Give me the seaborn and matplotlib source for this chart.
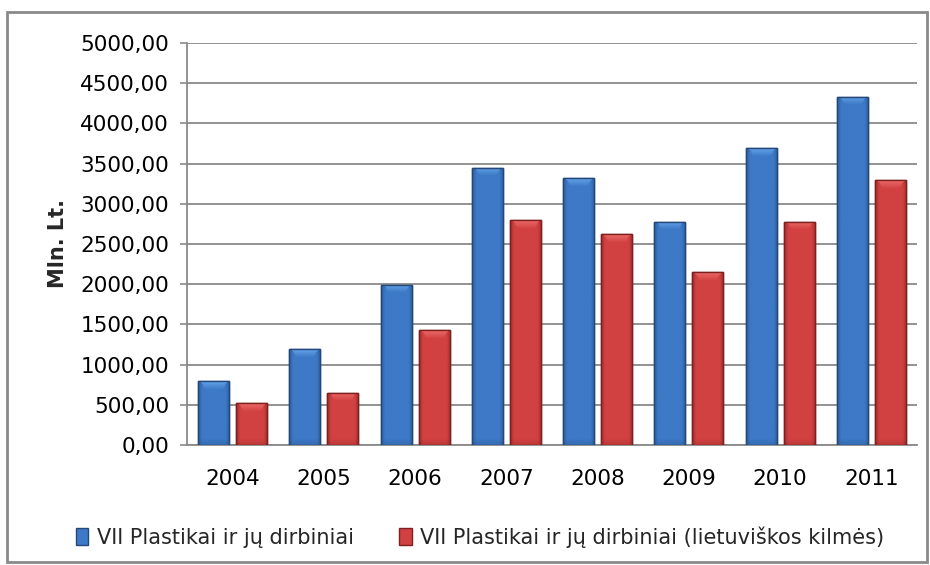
import matplotlib
matplotlib.use("Agg")
import matplotlib.pyplot as plt
import seaborn as sns
import pandas as pd
import numpy as np
from matplotlib.patches import Rectangle, Patch
from matplotlib.colors import to_rgb
from matplotlib.ticker import FuncFormatter, MultipleLocator

years = ["2004", "2005", "2006", "2007", "2008", "2009", "2010", "2011"]
series_names = ["VII Plastikai ir jų dirbiniai",
                "VII Plastikai ir jų dirbiniai (lietuviškos kilmės)"]
values_total = [796, 1190, 1995, 3447, 3317, 2774, 3692, 4330]
values_lt = [522, 647, 1430, 2795, 2620, 2148, 2775, 3290]
colors = ["#3D79C6", "#D24141"]
edge_colors = ["#24487A", "#7D2020"]
highlight_colors = ["#6AA8F0", "#F07070"]

df = pd.DataFrame({
    "year": years * 2,
    "value": values_total + values_lt,
    "series": [series_names[0]] * len(years) + [series_names[1]] * len(years),
})

sns.set_theme(style="white")
plt.rcParams["font.family"] = ["DejaVu Sans"]

fig = plt.figure(figsize=(9.3, 5.65), dpi=100)
ax = fig.add_axes([187 / 930, 1 - 445 / 565, (917 - 187) / 930, (445 - 43) / 565])

sns.barplot(data=df, x="year", y="value", hue="series", palette=colors,
            width=0.833, gap=0.18, ax=ax, legend=False, saturation=1)

ax.set_ylim(0, 5000)
ax.set_xlim(-0.5, len(years) - 0.5)

# bevel-like shading derived from each bar drawn by seaborn
px_per_unit = (445 - 43) / 5000.0
for i, cont in enumerate(ax.containers):
    base = np.array(to_rgb(colors[i]))
    dark = np.array(to_rgb(edge_colors[i]))
    hi = np.array(to_rgb(highlight_colors[i]))
    for bar in cont:
        bar.set_edgecolor(edge_colors[i])
        bar.set_linewidth(1.0)
        bar.set_zorder(3)
        x0, w = bar.get_x(), bar.get_width()
        h = bar.get_height()
        ny = max(int(h * px_per_unit), 2)
        nx = 31
        img = np.tile(base, (ny, nx, 1))
        xs = np.linspace(0, 1, nx)
        edge = np.clip(1 - np.minimum(xs, 1 - xs) / 0.12, 0, 1) * 0.55
        img = img * (1 - edge[None, :, None]) + dark[None, None, :] * edge[None, :, None]
        band = min(8, ny)
        for r in range(band):
            a = 0.85 * (1 - r / band)
            inset = r / band * 0.15 + 0.08
            mask = (xs > inset) & (xs < 1 - inset)
            img[r, mask] = img[r, mask] * (1 - a) + hi * a
        bot = min(6, ny)
        for r in range(bot):
            a = 0.25 * (1 - r / bot)
            img[ny - 1 - r] = img[ny - 1 - r] * (1 - a) + dark * a
        im = ax.imshow(img, extent=(x0, x0 + w, 0, h), aspect="auto",
                       origin="upper", zorder=3.5, interpolation="bilinear")
        im.set_clip_path(bar)
        outline = Rectangle((x0, 0), w, h, fill=False, edgecolor=edge_colors[i],
                            linewidth=1.0, zorder=4)
        ax.add_patch(outline)

ax.set_ylim(0, 5000)
ax.set_xlim(-0.5, len(years) - 0.5)
ax.yaxis.set_major_locator(MultipleLocator(500))
ax.yaxis.set_major_formatter(FuncFormatter(lambda v, p: f"{v:.2f}".replace(".", ",")))
ax.grid(axis="y", color="#8A8A8A", linewidth=1.3, zorder=0)
ax.set_axisbelow(True)
for s in ["top", "right"]:
    ax.spines[s].set_visible(False)
for s in ["left", "bottom"]:
    ax.spines[s].set_color("#8A8A8A")
    ax.spines[s].set_linewidth(1.3)
ax.tick_params(axis="y", labelsize=15.5, colors="black", length=5, width=1.2,
               color="#8A8A8A", direction="out", pad=8, left=True)
ax.tick_params(axis="x", labelsize=15.5, colors="black", length=0, pad=17)
ax.set_xlabel("")
ax.set_ylabel("Mln. Lt.", fontsize=15, fontweight="bold", labelpad=9)

# legend
handles = [Patch(facecolor=colors[i], edgecolor=edge_colors[i]) for i in range(2)]
fig.legend(handles, series_names, loc="center", bbox_to_anchor=(480 / 930, 1 - 537 / 565),
           ncol=2, frameon=False, handlelength=0.6, handleheight=0.9,
           handletextpad=0.4, columnspacing=2.2,
           prop={"family": ["DejaVu Sans"], "size": 15})

# outer border
fig.patches.append(Rectangle((7 / 930, 1 - 562 / 565), (927 - 7) / 930, (562 - 12) / 565,
                             transform=fig.transFigure, fill=False,
                             edgecolor="#8A8A8A", linewidth=2))

fig.savefig("out.png", dpi=100)
